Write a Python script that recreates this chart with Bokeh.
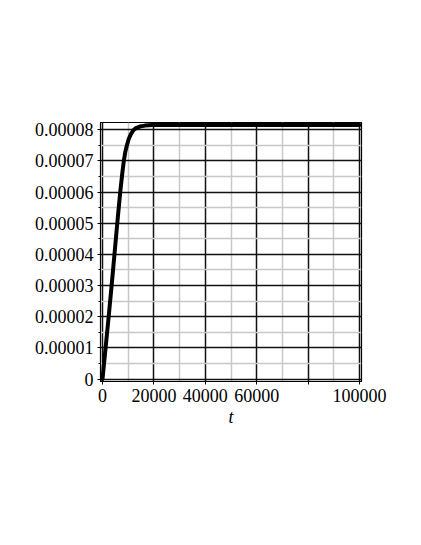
from bokeh.plotting import figure
from bokeh.models import FixedTicker, CustomJSTickFormatter, Range1d
from bokeh.embed import file_html
from bokeh.resources import INLINE

# data
t_vals = [0, 1200, 2400, 3550, 4650, 5750, 6900, 7700, 8300, 8900, 9500, 10200, 11000, 12000, 13000, 14500, 16500, 19400, 30000, 60000, 100000]
y_vals = [0, 1.0e-5, 2.0e-5, 3.0e-5, 4.0e-5, 5.0e-5, 6.0e-5, 6.6e-5, 7.0e-5, 7.3e-5, 7.5e-5, 7.7e-5, 7.85e-5, 7.98e-5, 8.05e-5, 8.1e-5, 8.13e-5, 8.15e-5, 8.15e-5, 8.15e-5, 8.15e-5]

x_major = [0, 20000, 40000, 60000, 80000, 100000]
x_minor = [10000, 30000, 50000, 70000, 90000]
y_major = [0, 0.00001, 0.00002, 0.00003, 0.00004, 0.00005, 0.00006, 0.00007, 0.00008]
y_minor = [0.000005, 0.000015, 0.000025, 0.000035, 0.000045, 0.000055, 0.000065, 0.000075]
x_label = "t"

p = figure(frame_width=261, frame_height=259,
           min_border_left=100, min_border_top=122, min_border_right=44, min_border_bottom=140,
           x_range=Range1d(-780, 100780), y_range=Range1d(-0.0000008, 0.0000823),
           output_backend="svg", toolbar_location=None)
p.background_fill_color = "white"
p.border_fill_color = "white"
p.outline_line_color = "black"
p.outline_line_width = 1.2

p.xaxis.ticker = FixedTicker(ticks=x_major, minor_ticks=x_minor)
p.yaxis.ticker = FixedTicker(ticks=y_major, minor_ticks=y_minor)
p.xaxis.formatter = CustomJSTickFormatter(code="return tick == 80000 ? '' : tick.toFixed(0);")
p.yaxis.formatter = CustomJSTickFormatter(code="return tick == 0 ? '0' : tick.toFixed(5);")

for ax in (p.xaxis[0], p.yaxis[0]):
    ax.major_label_text_font = "Liberation Serif"
    ax.major_label_text_font_size = "18px"
    ax.major_label_text_color = "black"
    ax.axis_line_color = "black"
    ax.major_tick_line_color = "black"
    ax.minor_tick_line_color = "black"
    ax.major_tick_in = 0
    ax.minor_tick_in = 0
p.yaxis.major_tick_out = 3
p.yaxis.minor_tick_out = 2
p.yaxis.major_label_standoff = 4
p.xaxis.major_tick_out = 3
p.xaxis.minor_tick_out = 0
p.xaxis.major_label_standoff = 4

p.xaxis.axis_label = x_label
p.xaxis.axis_label_text_font = "Liberation Serif"
p.xaxis.axis_label_text_font_style = "italic"
p.xaxis.axis_label_text_font_size = "18px"
p.xaxis.axis_label_text_color = "black"
p.xaxis.axis_label_standoff = 2

for g in (p.xgrid[0], p.ygrid[0]):
    g.grid_line_color = "#111111"
    g.grid_line_width = 1.5
    g.minor_grid_line_color = "#c8c8c8"
    g.minor_grid_line_width = 1.5

p.line(t_vals, y_vals, line_color="black", line_width=4, line_join="round", line_cap="round")

open("out.html", "w").write(file_html(p, INLINE))
